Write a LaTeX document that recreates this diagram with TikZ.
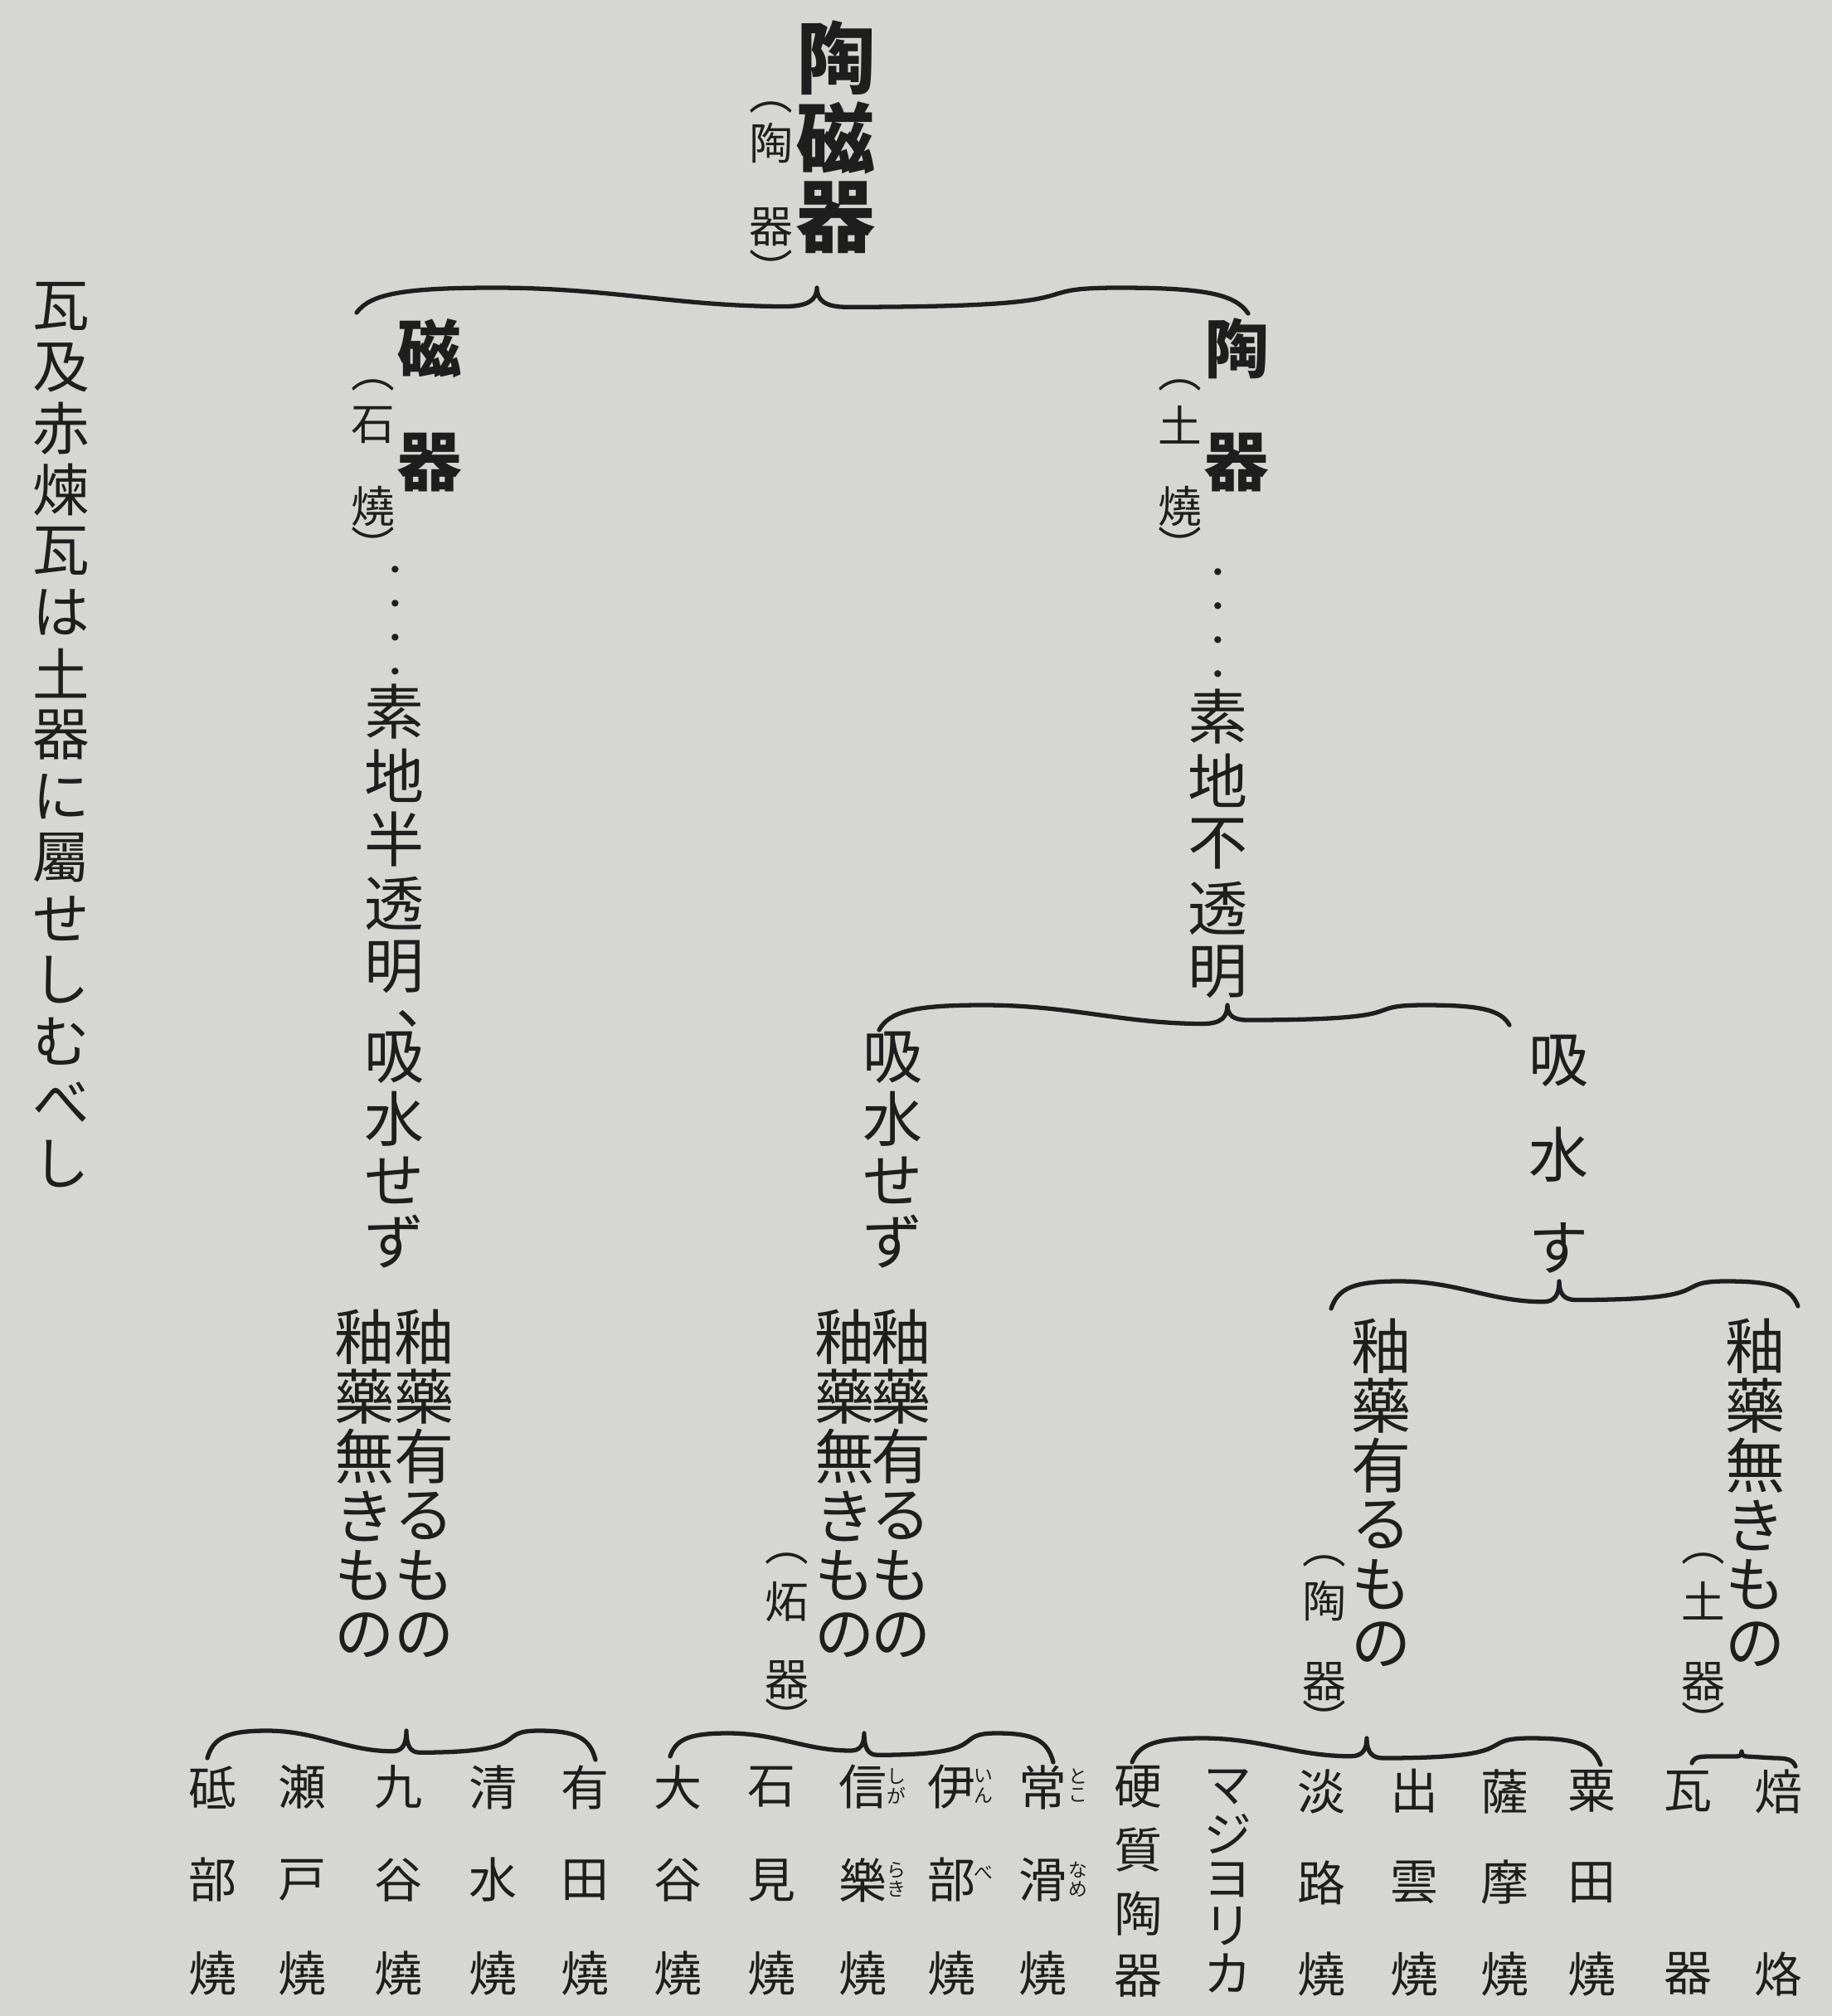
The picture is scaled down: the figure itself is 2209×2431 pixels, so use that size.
\documentclass[tikz,border=0pt]{standalone}
\usepackage{fontspec}
\newfontfamily\jp{Noto Sans CJK JP}
\usetikzlibrary{calc}
\definecolor{paper}{RGB}{214,214,211}
\definecolor{ink}{RGB}{30,30,30}
\tikzset{
  ch/.style={inner sep=0pt, text=ink, font={\jp\fontsize{#1}{#1}\selectfont}},
  bch/.style={inner sep=0pt, text=ink, font={\jp\bfseries\fontsize{#1}{#1}\selectfont}},
  brc/.style={draw=ink, line width=1.5pt, line cap=round, line join=round}
}
\newcommand\vcol[6]{\foreach \c [count=\i] in {#6} {\node[ch=#5] (#1-\i) at (#2,{#3+(\i-1)*#4}) {\c};}}
\newcommand\vcolb[6]{\foreach \c [count=\i] in {#6} {\node[bch=#5] (#1-\i) at (#2,{#3+(\i-1)*#4}) {\c};}}
\newcommand\ch[5]{\node[ch=#4] (#1) at (#2,#3) {#5};}
\newcommand\bch[5]{\node[bch=#4] (#1) at (#2,#3) {#5};}
\newcommand\curlybrace[3]{%
  \draw[brc] let \p1=(#1), \p2=(#2), \p3=(#3), \n1={\x2-\x1}, \n2={\y2-\y1}, \n3={\x3-\x2}, \n4={\y2-\y3} in
    (\p1) .. controls ({\x1+0.03*\n1},{\y1+0.75*\n2}) and ({\x1+0.10*\n1},{\y2}) .. ({\x1+0.30*\n1},{\y2})
          .. controls ({\x1+0.55*\n1},{\y2}) and ({\x2-0.30*\n1},{\y1+0.25*\n2}) .. ({\x2-0.07*\n1},{\y1+0.25*\n2})
          .. controls ({\x2-0.02*\n1},{\y1+0.25*\n2}) and ({\x2},{\y1+0.5*\n2}) .. (\p2)
          .. controls ({\x2},{\y3+0.5*\n4}) and ({\x2+0.02*\n3},{\y3+0.25*\n4}) .. ({\x2+0.07*\n3},{\y3+0.25*\n4})
          .. controls ({\x3-0.30*\n3},{\y3+0.25*\n4}) and ({\x3-0.55*\n3},{\y2}) .. ({\x3-0.30*\n3},{\y2})
          .. controls ({\x3-0.10*\n3},{\y2}) and ({\x3-0.03*\n3},{\y3+0.75*\n4}) .. (\p3);}
\begin{document}
\begin{tikzpicture}[x=0.1mm,y=-0.1mm]
\fill[paper] (0,0) rectangle (2209,2431);
\useasboundingbox (0,0) rectangle (2209,2431);

% side note
\vcol{note}{74}{369}{73.9}{19.5pt}{瓦,及,赤,煉,瓦,は,土,器,に,屬,せ,し,む,べ,し}

% title
\vcolb{title}{1008}{70}{96}{27pt}{陶,磁,器}
\ch{tp1}{930}{130}{15pt}{︵}
\ch{tp2}{930}{173}{15pt}{陶}
\ch{tp3}{930}{274}{15pt}{器}
\ch{tp4}{930}{324}{15pt}{︶}

\coordinate (b0L) at (430,377);
\coordinate (b0T) at (985,347);
\coordinate (b0R) at (1505,378);
\curlybrace{b0L}{b0T}{b0R}

% left branch: porcelain
\bch{ja}{518}{420}{22pt}{磁}
\bch{jb}{518}{558}{22pt}{器}
\ch{jp1}{450}{465}{15pt}{︵}
\ch{jp2}{450}{512}{15pt}{石}
\ch{jp3}{450}{610}{15pt}{燒}
\ch{jp4}{450}{658}{15pt}{︶}
\vcol{jd}{477}{692}{41}{11pt}{・,・,・,・}
\vcol{jt}{476}{858}{77}{20.5pt}{素,地,半,透,明}
\node[ch=20.5pt, anchor=base west] (jcomma) at (477,1234) {、};
\vcol{ju}{476}{1275}{74}{20.5pt}{吸,水,せ,ず}
\vcol{jg1}{512}{1612}{72}{20.5pt}{釉,藥,有,る,も,の}
\vcol{jg2}{440}{1612}{72}{20.5pt}{釉,藥,無,き,も,の}

\coordinate (b1L) at (250,2120);
\coordinate (b1T) at (490,2087);
\coordinate (b1R) at (718,2122);
\curlybrace{b1L}{b1T}{b1R}
\vcol{p1}{256}{2155}{112}{16.5pt}{砥,部,燒}
\vcol{p2}{364}{2155}{112}{16.5pt}{瀬,戸,燒}
\vcol{p3}{480}{2155}{112}{16.5pt}{九,谷,燒}
\vcol{p4}{594}{2155}{112}{16.5pt}{清,水,燒}
\vcol{p5}{705}{2155}{112}{16.5pt}{有,田,燒}

% right branch: pottery
\bch{ta}{1491}{420}{22pt}{陶}
\bch{tb}{1491}{558}{22pt}{器}
\ch{tp5}{1423}{465}{15pt}{︵}
\ch{tp6}{1423}{512}{15pt}{土}
\ch{tp7}{1423}{610}{15pt}{燒}
\ch{tp8}{1423}{658}{15pt}{︶}
\vcol{td}{1469}{695}{41}{11pt}{・,・,・,・}
\vcol{tt}{1469}{864}{77}{20.5pt}{素,地,不,透,明}

\coordinate (b2L) at (1060,1242);
\coordinate (b2T) at (1480,1212);
\coordinate (b2R) at (1820,1236);
\curlybrace{b2L}{b2T}{b2R}

% does not absorb water
\vcol{nw}{1077}{1275}{74}{20.5pt}{吸,水,せ,ず}
\vcol{sg1}{1087}{1612}{72}{20.5pt}{釉,藥,有,る,も,の}
\vcol{sg2}{1019}{1612}{72}{20.5pt}{釉,藥,無,き,も,の}
\ch{sp1}{949}{1880}{15pt}{︵}
\ch{sp2}{949}{1932}{15pt}{炻}
\ch{sp3}{949}{2026}{15pt}{器}
\ch{sp4}{949}{2070}{15pt}{︶}

\coordinate (b3L) at (808,2118);
\coordinate (b3T) at (1042,2090);
\coordinate (b3R) at (1270,2125);
\curlybrace{b3L}{b3T}{b3R}
\vcol{s1}{817}{2155}{112}{16.5pt}{大,谷,燒}
\vcol{s2}{930}{2155}{112}{16.5pt}{石,見,燒}
\vcol{s3}{1040}{2155}{112}{16.5pt}{信,樂,燒}
\vcol{s4}{1147}{2155}{112}{16.5pt}{伊,部,燒}
\vcol{s5}{1257}{2155}{112}{16.5pt}{常,滑,燒}
\ch{r1}{1081}{2142}{6.5pt}{し}
\ch{r2}{1081}{2165}{6.5pt}{が}
\ch{r3}{1081}{2255}{6.5pt}{ら}
\ch{r4}{1081}{2278}{6.5pt}{き}
\ch{r5}{1186}{2142}{6.5pt}{い}
\ch{r6}{1186}{2165}{6.5pt}{ん}
\ch{r7}{1186}{2258}{6.5pt}{べ}
\ch{r8}{1300}{2142}{6.5pt}{と}
\ch{r9}{1300}{2165}{6.5pt}{こ}
\ch{r10}{1300}{2255}{6.5pt}{な}
\ch{r11}{1300}{2278}{6.5pt}{め}

% absorbs water
\vcol{aw}{1880}{1279}{113}{20.5pt}{吸,水,す}
\coordinate (b4L) at (1605,1578);
\coordinate (b4T) at (1880,1545);
\coordinate (b4R) at (2168,1575);
\curlybrace{b4L}{b4T}{b4R}

\vcol{tg1}{1666}{1623}{72}{20.5pt}{釉,藥,有,る,も,の}
\ch{tq1}{1597}{1883}{15pt}{︵}
\ch{tq2}{1597}{1930}{15pt}{陶}
\ch{tq3}{1597}{2028}{15pt}{器}
\ch{tq4}{1597}{2072}{15pt}{︶}
\vcol{dg1}{2116}{1623}{72}{20.5pt}{釉,藥,無,き,も,の}
\ch{dq1}{2054}{1880}{15pt}{︵}
\ch{dq2}{2054}{1930}{15pt}{土}
\ch{dq3}{2054}{2028}{15pt}{器}
\ch{dq4}{2054}{2074}{15pt}{︶}

\coordinate (b5L) at (1365,2125);
\coordinate (b5T) at (1648,2096);
\coordinate (b5R) at (1930,2128);
\curlybrace{b5L}{b5T}{b5R}
\vcol{t1}{1372}{2155}{76}{16.5pt}{硬,質,陶,器}
\vcol{t2}{1480}{2155}{56}{16.5pt}{マ,ジ,ヨ,リ,カ}
\vcol{t3}{1593}{2160}{110}{16.5pt}{淡,路,燒}
\vcol{t4}{1705}{2160}{110}{16.5pt}{出,雲,燒}
\vcol{t5}{1814}{2160}{110}{16.5pt}{薩,摩,燒}
\vcol{t6}{1919}{2160}{110}{16.5pt}{粟,田,燒}

% short flat brace over 瓦器 and 焙烙
\coordinate (b6L) at (2040,2126);
\coordinate (b6T) at (2100,2112);
\coordinate (b6R) at (2165,2130);
\draw[brc] (b6L) .. controls ($(b6L)+(3,-8)$) and ($(b6L)+(10,-8)$) .. ($(b6L)+(25,-8)$)
  -- ($(b6T)+(-6,6)$) .. controls ($(b6T)+(-2,6)$) and ($(b6T)+(0,4)$) .. (b6T)
  .. controls ($(b6T)+(0,4)$) and ($(b6T)+(2,6)$) .. ($(b6T)+(6,6)$)
  -- ($(b6R)+(-25,-10)$) .. controls ($(b6R)+(-10,-10)$) and ($(b6R)+(-3,-8)$) .. (b6R);
\vcol{e1}{2035}{2160}{220}{16.5pt}{瓦,器}
\vcol{e2}{2144}{2160}{220}{16.5pt}{焙,烙}
\end{tikzpicture}
\end{document}
